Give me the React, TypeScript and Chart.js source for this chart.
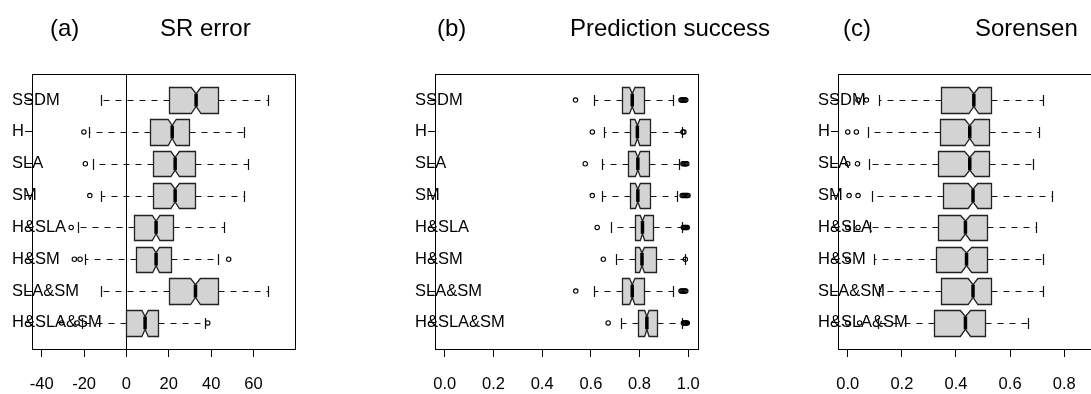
import React, { useEffect, useRef } from "react";
import { Chart, registerables } from "chart.js";

Chart.register(...registerables);

const FONT = '"Liberation Sans", Arial, Helvetica, sans-serif';

// ---------- data ----------
const categories = ["SSDM", "H", "SLA", "SM", "H&SLA", "H&SM", "SLA&SM", "H&SLA&SM"];

// (a) SR error
const srWhiskerLo = [-12.0, -17.8, -15.6, -12.0, -22.8, -19.4, -12.0, -21.1];
const srQ1 = [20.0, 11.0, 12.6, 12.6, 3.8, 4.6, 20.0, 0.0];
const srMedian = [32.9, 21.6, 23.0, 23.0, 14.0, 14.0, 32.6, 8.8];
const srQ3 = [43.1, 29.7, 32.6, 32.6, 22.2, 20.9, 43.1, 15.0];
const srWhiskerHi = [66.7, 55.7, 57.3, 55.7, 46.0, 43.1, 66.7, 37.3];
const srNotch = [2.3, 1.9, 2.0, 2.0, 1.8, 1.6, 2.3, 1.5];
const srOutliers = [[], [-20.1], [-19.4], [-17.3], [-26.1], [-24.6, -21.9, 48.3], [], [-30.6, -23.3, 38.4]];
const srTicks = [-40, -20, 0, 20, 40, 60];

// (b) Prediction success
const psWhiskerLo = [0.613, 0.654, 0.644, 0.644, 0.684, 0.702, 0.613, 0.722];
const psQ1 = [0.729, 0.76, 0.754, 0.76, 0.78, 0.78, 0.729, 0.795];
const psMedian = [0.77, 0.791, 0.793, 0.793, 0.812, 0.81, 0.77, 0.83];
const psQ3 = [0.818, 0.843, 0.839, 0.843, 0.856, 0.866, 0.818, 0.873];
const psWhiskerHi = [0.937, 0.975, 0.964, 0.955, 0.975, 0.985, 0.937, 0.975];
const psNotch = [0.011, 0.01, 0.01, 0.01, 0.009, 0.01, 0.011, 0.009];
const psOutliers = [
  [0.537, 0.97, 0.974, 0.978, 0.982, 0.986, 0.99],
  [0.606, 0.978, 0.982],
  [0.577, 0.978, 0.982, 0.986, 0.99, 0.994],
  [0.606, 0.975, 0.979, 0.983, 0.987, 0.991, 0.995, 0.999],
  [0.626, 0.98, 0.984, 0.988, 0.992, 0.996],
  [0.651, 0.988],
  [0.538, 0.97, 0.974, 0.978, 0.982, 0.986, 0.99],
  [0.671, 0.98, 0.984, 0.988, 0.992, 0.996],
];
const psTicks = [0, 0.2, 0.4, 0.6, 0.8, 1.0];

// (c) Sorensen
const sorWhiskerLo = [0.116, 0.075, 0.079, 0.091, 0.081, 0.097, 0.116, 0.112];
const sorQ1 = [0.346, 0.34, 0.334, 0.352, 0.334, 0.328, 0.346, 0.318];
const sorMedian = [0.466, 0.451, 0.451, 0.463, 0.435, 0.439, 0.463, 0.435];
const sorQ3 = [0.528, 0.522, 0.522, 0.528, 0.516, 0.516, 0.528, 0.506];
const sorWhiskerHi = [0.722, 0.707, 0.685, 0.755, 0.697, 0.722, 0.722, 0.666];
const sorNotch = [0.018, 0.018, 0.019, 0.018, 0.018, 0.019, 0.018, 0.019];
const sorOutliers = [[0.038, 0.069], [0.0, 0.032], [0.0, 0.036], [0.005, 0.038], [0.0, 0.038], [0.0], [], [0.0, 0.044]];
const sorTicks = [0, 0.2, 0.4, 0.6, 0.8];

// ---------- drawing ----------
type Stats = {
  lo: number[];
  q1: number[];
  med: number[];
  q3: number[];
  hi: number[];
  notch: number[];
  out: number[][];
};

const BOX_HALF = 0.4;
const NOTCH_HALF = 0.2;
const CAP_HALF = 0.17;

function makeBoxPlugin(st: Stats, refLine: number | null) {
  return {
    id: "notchedBoxes",
    beforeDatasetsDraw(chart: any) {
      const ctx: CanvasRenderingContext2D = chart.ctx;
      const xs = chart.scales.x;
      const ys = chart.scales.y;
      const a = chart.chartArea;
      const px = (v: number) => Math.round(xs.getPixelForValue(v)) + 0.5;
      ctx.save();
      ctx.beginPath();
      ctx.rect(a.left, a.top, a.right - a.left, a.bottom - a.top);
      ctx.clip();
      ctx.strokeStyle = "#000";
      ctx.lineWidth = 1;
      if (refLine !== null) {
        const x0 = px(refLine);
        ctx.beginPath();
        ctx.moveTo(x0, a.top);
        ctx.lineTo(x0, a.bottom);
        ctx.stroke();
      }
      for (let i = 0; i < st.med.length; i++) {
        const y = ys.getPixelForValue(i);
        const hb = Math.abs(ys.getPixelForValue(i + BOX_HALF) - y);
        const hn = Math.abs(ys.getPixelForValue(i + NOTCH_HALF) - y);
        const hc = Math.abs(ys.getPixelForValue(i + CAP_HALF) - y);
        const yc = Math.round(y) + 0.5;
        const xl = px(st.lo[i]);
        const x1 = px(st.q1[i]);
        const xm = xs.getPixelForValue(st.med[i]);
        const x3 = px(st.q3[i]);
        const xh = px(st.hi[i]);
        const nl = xs.getPixelForValue(st.med[i] - st.notch[i]);
        const nh = xs.getPixelForValue(st.med[i] + st.notch[i]);
        const top = Math.round(y - hb) + 0.5;
        const bot = Math.round(y + hb) + 0.5;

        // whiskers (dashed)
        ctx.setLineDash([6, 6]);
        ctx.lineWidth = 1.2;
        ctx.strokeStyle = "#111";
        ctx.beginPath();
        ctx.moveTo(x1, yc);
        ctx.lineTo(xl, yc);
        ctx.moveTo(x3, yc);
        ctx.lineTo(xh, yc);
        ctx.stroke();
        ctx.setLineDash([]);
        // staples
        ctx.beginPath();
        ctx.moveTo(xl, yc - hc);
        ctx.lineTo(xl, yc + hc);
        ctx.moveTo(xh, yc - hc);
        ctx.lineTo(xh, yc + hc);
        ctx.stroke();

        // notched box
        ctx.beginPath();
        ctx.moveTo(x1, top);
        ctx.lineTo(nl, top);
        ctx.lineTo(xm, y - hn);
        ctx.lineTo(nh, top);
        ctx.lineTo(x3, top);
        ctx.lineTo(x3, bot);
        ctx.lineTo(nh, bot);
        ctx.lineTo(xm, y + hn);
        ctx.lineTo(nl, bot);
        ctx.lineTo(x1, bot);
        ctx.closePath();
        ctx.fillStyle = "#D3D3D3";
        ctx.fill();
        ctx.lineWidth = 1.3;
        ctx.strokeStyle = "#222";
        ctx.stroke();
        ctx.strokeStyle = "#000";

        // median
        ctx.lineWidth = 3.5;
        ctx.beginPath();
        ctx.moveTo(xm, y - hn);
        ctx.lineTo(xm, y + hn);
        ctx.stroke();
        ctx.lineWidth = 1;
      }
      ctx.restore();

      // frame
      ctx.save();
      ctx.strokeStyle = "#000";
      ctx.lineWidth = 1;
      ctx.strokeRect(Math.round(a.left) + 0.5, Math.round(a.top) + 0.5, Math.round(a.right - a.left), Math.round(a.bottom - a.top));
      ctx.restore();
    },
  };
}

const CANVAS_W = 403;
const CANVAS_H = 394;

type PanelProps = {
  stats: Stats;
  min: number;
  max: number;
  ticks: number[];
  decimals: number;
  refLine: number | null;
  left: number;
};

function Panel({ stats, min, max, ticks, decimals, refLine, left }: PanelProps) {
  const ref = useRef<HTMLCanvasElement | null>(null);
  useEffect(() => {
    if (!ref.current) return;
    const points = stats.out.flatMap((arr, i) => arr.map((v) => ({ x: v, y: i })));
    const chart = new Chart(ref.current, {
      type: "scatter",
      data: {
        datasets: [
          {
            data: points,
            pointRadius: 2.2,
            pointBorderWidth: 1.1,
            pointBorderColor: "#000",
            pointBackgroundColor: "rgba(0,0,0,0)",
            pointHoverRadius: 2.2,
          },
        ],
      },
      options: {
        responsive: false,
        maintainAspectRatio: false,
        animation: false,
        events: [],
        devicePixelRatio: 1,
        layout: { padding: { left: 32, right: 108, top: 74, bottom: 0 } },
        plugins: { legend: { display: false }, tooltip: { enabled: false }, title: { display: false } },
        scales: {
          x: {
            type: "linear",
            min,
            max,
            afterBuildTicks: (sc: any) => {
              sc.ticks = ticks.map((v) => ({ value: v }));
            },
            afterFit: (sc: any) => {
              sc.height = 45;
            },
            border: { display: false },
            grid: { drawOnChartArea: false, drawTicks: true, tickLength: 8, color: "#000", lineWidth: 1 },
            ticks: {
              color: "#000",
              font: { family: FONT, size: 16.5 },
              padding: 18,
              autoSkip: false,
              maxRotation: 0,
              callback: (v: any) => Number(v).toFixed(decimals),
            },
          },
          y: {
            type: "linear",
            min: -0.82,
            max: 7.82,
            reverse: true,
            afterBuildTicks: (sc: any) => {
              sc.ticks = categories.map((_, i) => ({ value: i }));
            },
            afterFit: (sc: any) => {
              sc.width = 0;
            },
            border: { display: false },
            grid: { drawOnChartArea: false, drawTicks: true, tickLength: 7, color: "#000", lineWidth: 1 },
            ticks: {
              mirror: true,
              padding: -20,
              color: "#000",
              autoSkip: false,
              font: { family: FONT, size: 16.5 },
              callback: (v: any) => categories[Math.round(Number(v))] ?? "",
            },
          },
        },
      },
      plugins: [makeBoxPlugin(stats, refLine)],
    });
    return () => chart.destroy();
  }, []);
  return (
    <canvas
      ref={ref}
      width={CANVAS_W}
      height={CANVAS_H}
      style={{ position: "absolute", left, top: 0, width: CANVAS_W, height: CANVAS_H }}
    />
  );
}

const titleStyle = (left: number): React.CSSProperties => ({
  position: "absolute",
  left,
  top: 15,
  fontFamily: FONT,
  fontSize: 24,
  lineHeight: "26px",
  color: "#000",
  whiteSpace: "nowrap",
});

export default function App() {
  const sr: Stats = { lo: srWhiskerLo, q1: srQ1, med: srMedian, q3: srQ3, hi: srWhiskerHi, notch: srNotch, out: srOutliers };
  const ps: Stats = { lo: psWhiskerLo, q1: psQ1, med: psMedian, q3: psQ3, hi: psWhiskerHi, notch: psNotch, out: psOutliers };
  const sor: Stats = { lo: sorWhiskerLo, q1: sorQ1, med: sorMedian, q3: sorQ3, hi: sorWhiskerHi, notch: sorNotch, out: sorOutliers };
  return (
    <div
      style={{
        position: "fixed",
        left: 0,
        top: 0,
        width: 1091,
        height: 394,
        overflow: "hidden",
        background: "#fff",
      }}
    >
      <Panel stats={sr} min={-44.6} max={79.6} ticks={srTicks} decimals={0} refLine={0} left={0} />
      <Panel stats={ps} min={-0.04} max={1.04} ticks={psTicks} decimals={1} refLine={null} left={403} />
      <Panel stats={sor} min={-0.036} max={0.936} ticks={sorTicks} decimals={1} refLine={null} left={806} />
      <div style={titleStyle(50)}>(a)</div>
      <div style={titleStyle(160)}>SR error</div>
      <div style={titleStyle(437)}>(b)</div>
      <div style={titleStyle(570)}>Prediction success</div>
      <div style={titleStyle(843)}>(c)</div>
      <div style={titleStyle(975)}>Sorensen</div>
    </div>
  );
}
